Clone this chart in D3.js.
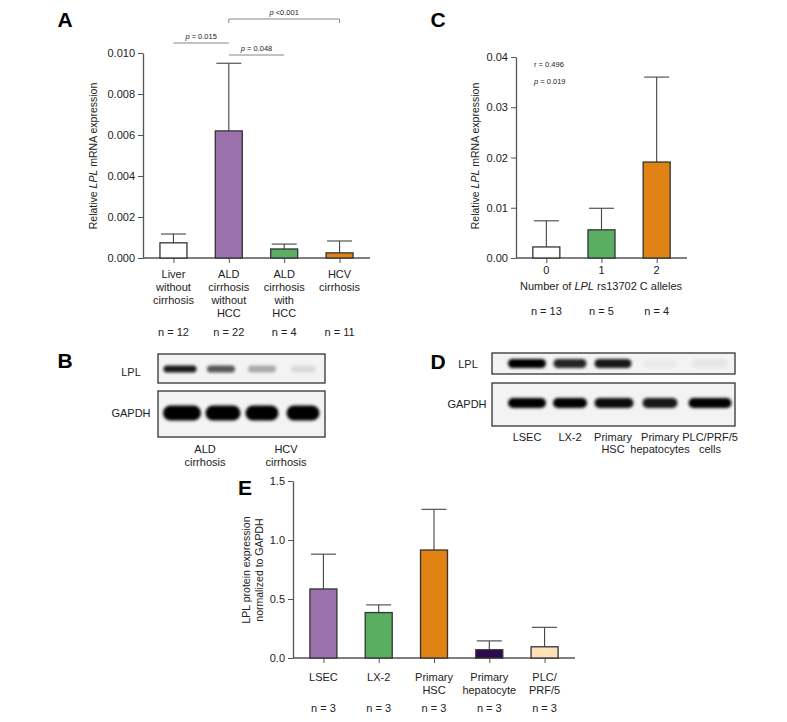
<!DOCTYPE html>
<html>
<head>
<meta charset="utf-8">
<script src="https://cdn.jsdelivr.net/npm/d3@7"></script>
<style>
  body { margin: 0; background: #fff; }
  svg { font-family: "Liberation Sans", Arial, sans-serif; }
  .tick text { font-size: 11px; fill: #222; }
  .domain, .tick line { stroke: #555; }
</style>
</head>
<body>
<svg id="fig" width="787" height="722"></svg>
<script>
// ---- data ----
var catsA = [["Liver", "without", "cirrhosis"], ["ALD", "cirrhosis", "without", "HCC"], ["ALD", "cirrhosis", "with", "HCC"], ["HCV", "cirrhosis"]];
var meanA = [0.00074, 0.0062, 0.00044, 0.00025];
var errA = [0.00117, 0.0095, 0.00068, 0.00083];
var nA = ["n = 12", "n = 22", "n = 4", "n = 11"];
var colA = ["#ffffff", "#9b71ac", "#5aae61", "#e08214"];
var ticksA = [0, 0.002, 0.004, 0.006, 0.008, 0.010];

var catsC = ["0", "1", "2"];
var meanC = [0.0022, 0.0056, 0.0191];
var errC = [0.0074, 0.0099, 0.036];
var nC = ["n = 13", "n = 5", "n = 4"];
var colC = ["#ffffff", "#5aae61", "#e08214"];
var ticksC = [0, 0.01, 0.02, 0.03, 0.04];

var catsE = [["LSEC"], ["LX-2"], ["Primary", "HSC"], ["Primary", "hepatocyte"], ["PLC/", "PRF/5"]];
var meanE = [0.585, 0.385, 0.915, 0.07, 0.095];
var errE = [0.88, 0.45, 1.26, 0.145, 0.26];
var nE = ["n = 3", "n = 3", "n = 3", "n = 3", "n = 3"];
var colE = ["#9b71ac", "#5aae61", "#e08214", "#2d0a4e", "#fee0b6"];
var ticksE = [0, 0.5, 1.0, 1.5];

// blot band intensities per lane
var blotB_LPL = [0.9, 0.65, 0.3, 0.1];
var blotB_GAPDH = [1, 1, 1, 1];
var blotD_LPL = [1, 0.85, 0.9, 0.03, 0.05];
var blotD_GAPDH = [1, 1, 0.95, 0.9, 1];

var svg = d3.select("#fig");

var defs = svg.append("defs");
defs.append("filter").attr("id", "blur").attr("x", "-50%").attr("y", "-100%").attr("width", "200%").attr("height", "300%")
  .append("feGaussianBlur").attr("stdDeviation", 1.8);

function panelLabel(t, x, y) {
  svg.append("text").attr("x", x).attr("y", y).attr("font-size", 21).attr("font-weight", "bold")
    .attr("text-anchor", "middle").attr("fill", "#000").text(t);
}

function barChart(o) {
  var g = svg.append("g");
  var y = d3.scaleLinear().domain([0, o.ymax]).range([o.y0, o.y1]);
  var x = d3.scalePoint().domain(d3.range(o.means.length)).range([o.x0, o.x1]).padding(0.55);
  var bw = 27;

  g.append("g").attr("transform", "translate(" + o.x0 + ",0)")
    .call(d3.axisLeft(y).tickValues(o.ticks).tickFormat(d3.format(o.fmt)).tickSize(5).tickSizeOuter(0));
  var xa = g.append("g").attr("transform", "translate(0," + o.y0 + ")")
    .call(d3.axisBottom(x).tickSize(5).tickFormat(""));
  xa.select(".domain").attr("d", "M" + o.x0 + ",0H" + o.x1);
  g.selectAll(".domain").attr("stroke-width", 1.3);

  // error bars
  var eb = g.selectAll(".err").data(o.means).enter().append("g");
  eb.append("line").attr("x1", function(d, i) { return x(i); }).attr("x2", function(d, i) { return x(i); })
    .attr("y1", function(d) { return y(d); }).attr("y2", function(d, i) { return y(o.errs[i]); })
    .attr("stroke", "#444").attr("stroke-width", 1.1);
  eb.append("line").attr("x1", function(d, i) { return x(i) - bw / 2 + 1; }).attr("x2", function(d, i) { return x(i) + bw / 2 - 1; })
    .attr("y1", function(d, i) { return y(o.errs[i]); }).attr("y2", function(d, i) { return y(o.errs[i]); })
    .attr("stroke", "#444").attr("stroke-width", 1.1);

  g.selectAll(".bar").data(o.means).enter().append("rect")
    .attr("x", function(d, i) { return x(i) - bw / 2; }).attr("width", bw)
    .attr("y", function(d) { return y(d); }).attr("height", function(d) { return o.y0 - y(d); })
    .attr("fill", function(d, i) { return o.colors[i]; })
    .attr("stroke", "#333").attr("stroke-width", 1.3);

  // category labels
  if (o.cats) {
    o.cats.forEach(function(lines, i) {
      var t = g.append("text").attr("text-anchor", "middle").attr("font-size", 11).attr("fill", "#222");
      lines.forEach(function(l, j) {
        t.append("tspan").attr("x", x(i)).attr("y", o.catY + j * 13).text(l);
      });
    });
  }
  o.ns.forEach(function(s, i) {
    g.append("text").attr("x", x(i)).attr("y", o.nY).attr("text-anchor", "middle")
      .attr("font-size", 11).attr("fill", "#222").text(s);
  });
  return { g: g, x: x, y: y };
}

// ---- Panel A ----
panelLabel("A", 65, 27);
var A = barChart({ x0: 143, x1: 370, y0: 258, y1: 53, ymax: 0.010, ticks: ticksA, fmt: ".3f",
  means: meanA, errs: errA, colors: colA, cats: catsA, catY: 278, nY: 336, ns: nA });
var tA = svg.append("text").attr("transform", "translate(97,156) rotate(-90)").attr("text-anchor", "middle")
  .attr("font-size", 10.5).attr("fill", "#222");
tA.append("tspan").text("Relative ");
tA.append("tspan").attr("font-style", "italic").text("LPL");
tA.append("tspan").text(" mRNA expression");

function sig(i1, i2, yLine, txt, ticks) {
  var x1 = A.x(i1), x2 = A.x(i2);
  var p = ticks ? "M" + x1 + "," + (yLine + 4) + "V" + yLine + "H" + x2 + "V" + (yLine + 4) : "M" + x1 + "," + yLine + "H" + x2;
  svg.append("path").attr("d", p).attr("fill", "none").attr("stroke", "#888").attr("stroke-width", 1);
  var t = svg.append("text").attr("x", (x1 + x2) / 2).attr("y", yLine - 4).attr("text-anchor", "middle")
    .attr("font-size", 7.5).attr("fill", "#222");
  t.append("tspan").attr("font-style", "italic").text("p");
  t.append("tspan").text(txt);
}
sig(0, 1, 43, " = 0.015", false);
sig(1, 2, 55, " = 0.048", false);
sig(1, 3, 19, " <0.001", true);

// ---- Panel C ----
panelLabel("C", 438, 27);
var C = barChart({ x0: 516, x1: 687, y0: 258, y1: 57, ymax: 0.04, ticks: ticksC, fmt: ".2f",
  means: meanC, errs: errC, colors: colC, cats: catsC.map(function(c) { return [c]; }), catY: 274, nY: 315, ns: nC });
var tC = svg.append("text").attr("transform", "translate(479,156) rotate(-90)").attr("text-anchor", "middle")
  .attr("font-size", 10.5).attr("fill", "#222");
tC.append("tspan").text("Relative ");
tC.append("tspan").attr("font-style", "italic").text("LPL");
tC.append("tspan").text(" mRNA expression");
var xC = svg.append("text").attr("x", 601).attr("y", 290).attr("text-anchor", "middle").attr("font-size", 11).attr("fill", "#222");
xC.append("tspan").text("Number of ");
xC.append("tspan").attr("font-style", "italic").text("LPL");
xC.append("tspan").text(" rs13702 C alleles");
svg.append("text").attr("x", 534).attr("y", 67).attr("font-size", 7.5).attr("fill", "#222").text("r = 0.496");
var pC = svg.append("text").attr("x", 534).attr("y", 84).attr("font-size", 7.5).attr("fill", "#222");
pC.append("tspan").attr("font-style", "italic").text("p");
pC.append("tspan").text(" = 0.019");

// ---- blots ----
function blot(box, lanes, widths, intens, bandY, bandH) {
  var g = svg.append("g");
  g.append("rect").attr("x", box[0]).attr("y", box[1]).attr("width", box[2] - box[0]).attr("height", box[3] - box[1])
    .attr("fill", "#f3f3f3").attr("stroke", "#222").attr("stroke-width", 1.2);
  var clipId = "c" + Math.round(box[0]) + "_" + Math.round(box[1]);
  defs.append("clipPath").attr("id", clipId).append("rect").attr("x", box[0]).attr("y", box[1])
    .attr("width", box[2] - box[0]).attr("height", box[3] - box[1]);
  g.append("g").attr("clip-path", "url(#" + clipId + ")").selectAll("rect.band").data(intens).enter().append("rect")
    .attr("x", function(d, i) { return lanes[i] - widths[i] / 2; }).attr("width", function(d, i) { return widths[i]; })
    .attr("y", bandY - bandH / 2).attr("height", bandH).attr("rx", bandH / 2)
    .attr("fill", "#000").attr("fill-opacity", function(d) { return d; }).attr("filter", "url(#blur)");
}

panelLabel("B", 65, 368);
var lanesB = [180, 221, 262, 303];
blot([158, 354, 325, 383], lanesB, [33, 28, 28, 25], blotB_LPL, 369, 7);
blot([158, 391, 325, 437], [182, 223, 262, 303], [38, 35, 33, 33], blotB_GAPDH, 413, 15);
svg.append("text").attr("x", 131).attr("y", 376).attr("text-anchor", "middle").attr("font-size", 11).attr("fill", "#222").text("LPL");
svg.append("text").attr("x", 131).attr("y", 417).attr("text-anchor", "middle").attr("font-size", 11).attr("fill", "#222").text("GAPDH");
[["ALD", "cirrhosis", 205], ["HCV", "cirrhosis", 286]].forEach(function(d) {
  var t = svg.append("text").attr("text-anchor", "middle").attr("font-size", 11).attr("fill", "#222");
  t.append("tspan").attr("x", d[2]).attr("y", 453).text(d[0]);
  t.append("tspan").attr("x", d[2]).attr("y", 466).text(d[1]);
});

panelLabel("D", 438, 369);
var lanesD = [527, 570, 613, 660, 710];
blot([492, 353, 735, 374], lanesD, [38, 33, 37, 34, 36], blotD_LPL, 363.5, 9);
blot([492, 383, 735, 426], [527, 570, 614, 660, 710], [38, 34, 39, 35, 43], blotD_GAPDH, 403, 10);
svg.append("text").attr("x", 468).attr("y", 368).attr("text-anchor", "middle").attr("font-size", 11).attr("fill", "#222").text("LPL");
svg.append("text").attr("x", 467).attr("y", 408).attr("text-anchor", "middle").attr("font-size", 11).attr("fill", "#222").text("GAPDH");
[["LSEC"], ["LX-2"], ["Primary", "HSC"], ["Primary", "hepatocytes"], ["PLC/PRF/5", "cells"]].forEach(function(d, i) {
  var t = svg.append("text").attr("text-anchor", "middle").attr("font-size", 11).attr("fill", "#222");
  d.forEach(function(l, j) { t.append("tspan").attr("x", lanesD[i]).attr("y", 441 + j * 12).text(l); });
});

// ---- Panel E ----
panelLabel("E", 245, 495);
barChart({ x0: 293, x1: 575, y0: 658, y1: 481, ymax: 1.5, ticks: ticksE, fmt: ".1f",
  means: meanE, errs: errE, colors: colE, cats: catsE, catY: 681, nY: 712, ns: nE });
var tE = svg.append("text").attr("transform", "translate(250,570) rotate(-90)").attr("text-anchor", "middle")
  .attr("font-size", 10.5).attr("fill", "#222");
tE.append("tspan").attr("x", 0).attr("y", 0).text("LPL protein expression");
tE.append("tspan").attr("x", 0).attr("y", 13).text("normalized to GAPDH");
</script>
</body>
</html>
